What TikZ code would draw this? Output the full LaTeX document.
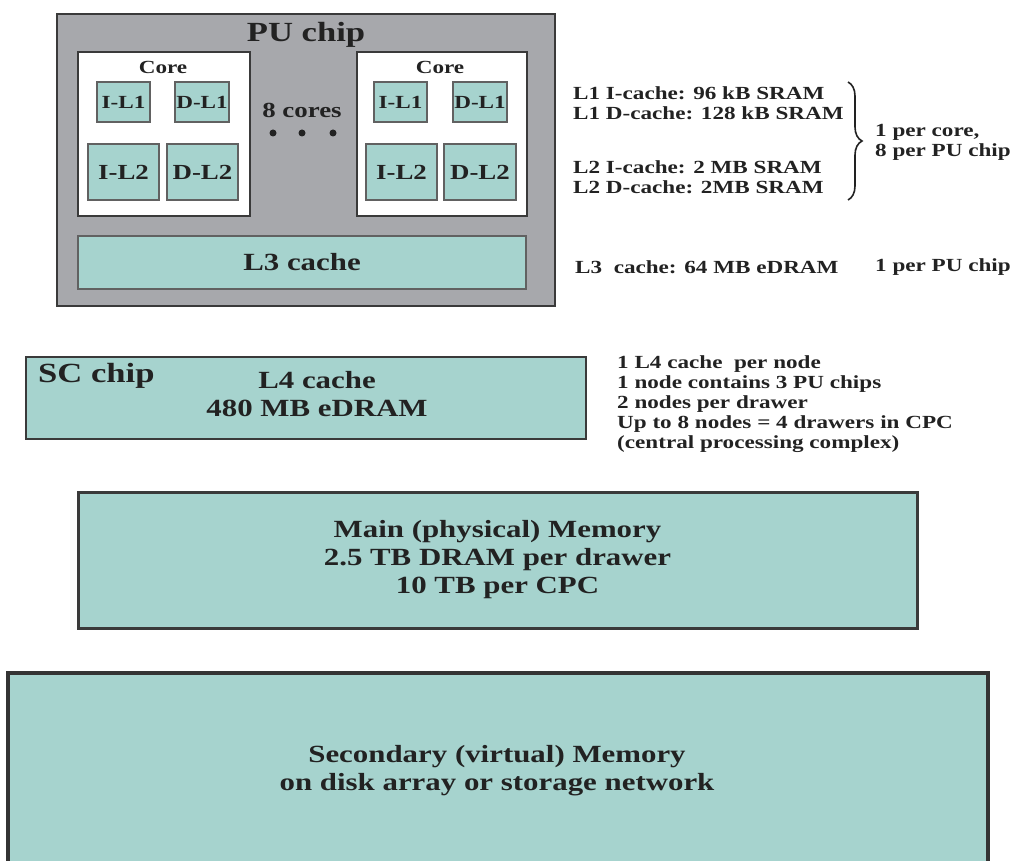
\documentclass[tikz,border=0pt]{standalone}
\usepackage{fontspec}
\setmainfont{Liberation Serif}[FakeStretch=1.25]
\usetikzlibrary{decorations.pathreplacing}
\definecolor{cachefill}{HTML}{A6D3CE}
\definecolor{chipgray}{HTML}{A7A8AC}
\definecolor{edgecol}{HTML}{3A3A3A}
\definecolor{inkcol}{HTML}{222222}
\newcommand\fsmall{\fontsize{18.5}{20}\selectfont\bfseries}
\newcommand\fmid{\fontsize{21.5}{24}\selectfont\bfseries}
\newcommand\flarge{\fontsize{24.7}{28}\selectfont\bfseries}
\newcommand\ftitle{\fontsize{27.7}{30}\selectfont\bfseries}
\tikzset{
  box/.style={draw=edgecol, anchor=north west, inner sep=0pt, outer sep=0pt, text=inkcol},
  chipbox/.style={box, fill=chipgray, line width=2pt},
  corebox/.style={box, fill=white, line width=2pt},
  cachebox/.style={box, fill=cachefill, draw=edgecol!80, line width=1.6pt},
  label/.style={inner sep=0pt, text=inkcol},
}
\begin{document}
\begin{tikzpicture}[x=1pt, y=-1pt]
\useasboundingbox (0,0) rectangle (1015,861);
\clip (0,0) rectangle (1015,861);

% PU chip
\node[chipbox, minimum width=498pt, minimum height=292pt] (pu) at (57,14) {};
\node[label, font=\ftitle] (putitle) at (306,35) {PU chip};

% Left core
\node[corebox, minimum width=172pt, minimum height=164pt] (corea) at (78,52) {};
\node[label, font=\fsmall] (coreatitle) at (163,67) {Core};
\node[cachebox, minimum width=53pt, minimum height=40pt, font=\fsmall] (ila) at (97,82) {I-L1};
\node[cachebox, minimum width=54pt, minimum height=40pt, font=\fsmall] (dla) at (175,82) {D-L1};
\node[cachebox, minimum width=71pt, minimum height=56pt, font=\fmid] (iltwoa) at (88,144) {I-L2};
\node[cachebox, minimum width=71pt, minimum height=56pt, font=\fmid] (dltwoa) at (167,144) {D-L2};

% Right core
\node[corebox, minimum width=170pt, minimum height=164pt] (coreb) at (357,52) {};
\node[label, font=\fsmall] (corebtitle) at (440,67) {Core};
\node[cachebox, minimum width=53pt, minimum height=40pt, font=\fsmall] (ilb) at (374,82) {I-L1};
\node[cachebox, minimum width=54pt, minimum height=40pt, font=\fsmall] (dlb) at (453,82) {D-L1};
\node[cachebox, minimum width=71pt, minimum height=56pt, font=\fmid] (iltwob) at (366,144) {I-L2};
\node[cachebox, minimum width=72pt, minimum height=56pt, font=\fmid] (dltwob) at (444,144) {D-L2};

% 8 cores
\node[label, font=\fmid] (eight) at (302,110) {8 cores};
\fill[inkcol] (273,133) circle (3.5pt) (302,133) circle (3.5pt) (333,133) circle (3.5pt);

% L3
\node[cachebox, minimum width=448pt, minimum height=53pt, font=\flarge] (lthree) at (78,236) {L3 cache};

% Right-hand notes
\node[label, font=\fsmall, anchor=west, align=left] (lonetxt) at (573,103.5) {L1 I-cache: 96 kB SRAM\\L1 D-cache: 128 kB SRAM};
\node[label, font=\fsmall, anchor=west, align=left] (ltwotxt) at (573,177) {L2 I-cache: 2 MB SRAM\\L2 D-cache: 2MB SRAM};
\coordinate (bracetop) at (848,82);
\coordinate (bracebot) at (848,200);
\draw[inkcol, line width=1.6pt, decorate, decoration={brace, amplitude=14pt}] (bracetop) -- (bracebot);
\node[label, font=\fsmall, anchor=west, align=left, text depth=0pt] (percore) at (875,140.5) {\fontsize{18.5}{23}\selectfont 1 per core,\\8 per PU chip};
\node[label, font=\fsmall, anchor=west] (lthreetxt) at (575,267) {L3\ \ cache: 64 MB eDRAM};
\node[label, font=\fsmall, anchor=west] (perpu) at (875,267) {1 per PU chip};

% SC chip
\node[cachebox, draw=edgecol, minimum width=560pt, minimum height=82pt, line width=2.5pt] (sc) at (26,357) {};
\node[label, font=\ftitle, anchor=west] (sctitle) at (38,376) {SC chip};
\node[label, font=\flarge, align=center] (lfour) at (317,394) {L4 cache\\480 MB eDRAM};
\node[label, font=\fsmall, anchor=west, align=left] (nodenotes) at (617,404.5) {\fontsize{18.5}{21.2}\selectfont 1 L4 cache\ \ per node\\1 node contains 3 PU chips\\2 nodes per drawer\\Up to 8 nodes = 4 drawers in CPC\\(central processing complex)};

% Main memory
\node[cachebox, draw=edgecol, minimum width=839pt, minimum height=136pt, line width=3pt, font=\flarge, align=center] (mainmem) at (78,492) {Main (physical) Memory\\2.5 TB DRAM per drawer\\10 TB per CPC};

% Secondary memory
\node[cachebox, draw=edgecol!90!black, minimum width=980pt, minimum height=250pt, line width=4pt] (secmem) at (8,673) {};
\node[label, font=\flarge, align=center] (sectxt) at (497,770.5) {\fontsize{24.7}{29}\selectfont Secondary (virtual) Memory\\on disk array or storage network};
\end{tikzpicture}
\end{document}
